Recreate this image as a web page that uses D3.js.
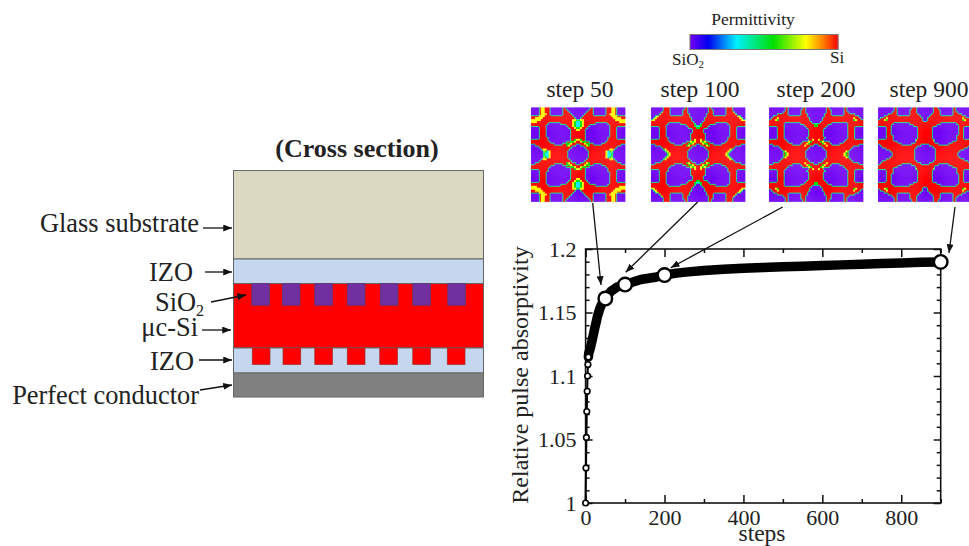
<!DOCTYPE html>
<html>
<head>
<meta charset="utf-8">
<script src="https://cdnjs.cloudflare.com/ajax/libs/d3/7.8.5/d3.min.js"></script>
<style>
html, body { margin: 0; padding: 0; background: #fff; overflow: hidden; }
svg { display: block; }
text { font-family: "Liberation Serif", serif; fill: #222; }
.axis path, .axis line { stroke: #111; stroke-width: 1.5; }
.axis text { font-family: "Liberation Serif", serif; font-size: 22px; fill: #222; }
.permMap { filter: blur(0.5px); }
</style>
</head>
<body>
<svg id="chart" width="969" height="546"></svg>
<script>
// Curve
const steps = [0,1,2,3,4,5,6,7,8,10,12,15,18,20,22,25,28,30,33,36,40,45,50,55,60,65,70,80,90,100,120,140,160,180,200,230,260,300,350,400,450,500,550,600,650,700,750,800,850,900];
const absorptivity = [1,1.0276,1.0516,1.072,1.088,1.1,1.109,1.115,1.118,1.12,1.122,1.126,1.13,1.133,1.136,1.14,1.144,1.147,1.15,1.153,1.156,1.159,1.161,1.163,1.165,1.167,1.168,1.17,1.171,1.172,1.174,1.176,1.177,1.178,1.1795,1.181,1.182,1.183,1.184,1.1848,1.1855,1.186,1.1865,1.187,1.1875,1.188,1.1885,1.189,1.1895,1.1898];
const highlightSteps = [50, 100, 200, 900];
const earlyCount = 8;

const xMajorTicks = [0, 200, 400, 600, 800];
const xMinorTicks = [100, 300, 500, 700, 900];
const yMajorTicks = [1, 1.05, 1.1, 1.15, 1.2];
const yTickLabels = ["1", "1.05", "1.1", "1.15", "1.2"];
const yMinorTicks = [1.01,1.02,1.03,1.04,1.06,1.07,1.08,1.09,1.11,1.12,1.13,1.14,1.16,1.17,1.18,1.19];

// Permittivity scale stops
const permittivityStops = [0, 0.12, 0.31, 0.56, 0.78, 0.88, 1];
const permittivityColors = ["#7000f5", "#0000f0", "#00f0ff", "#00e000", "#ffff00", "#ff9000", "#ff0000"];
const cellValues = {p: 0, c: 0.31, g: 0.56, y: 0.78, r: 1};

// Top left quarter of each map, the rest is mirrored
const map50 = [
"ppppryyrrrpppppprrpppppp","ppppryyrrrpppppprrrppppp","ppppryyrrrpppppprrrrpppp","ppppryyyrrpppppprrrrrppp",
"rrrryyyrrrrrrrrrrrrrrrpp","rryyyyrrrrrrrrrrrrrrrrrp","yyyyyrrrrrrrrrrrrrrrryyg","yyyrrrrrrrrrrrrrrrrrrygc",
"rrrrrrrrrpppppprrrrrrygc","rrrrrrrrpppppppppprrrygc","pppprrrrppppppppppprrryg","pppprrrrpppppppppppprrry",
"pppprrrrpppppppppppprrrr","pppprrrrpppppppppppprrrr","pppprrrrpppppppppppprrrr","pppprrrrrppppppppppprrrr",
"rrrrrrrrrppppppppppprrgy","rrrrrrrrrrpppppppprrggyr","rrrrrrrrrrrrpppprrggyrrr","pprrrrrrrrrrrrrrrrgyrrrp",
"pppprrrrrrrrrrrrrrrrrppp","pppppryyrrrrrrrrrrrrpppp","ppppppygcyrrrrrrrrrppppp","ppppppgccyrrrrrrrrrppppp"];
const map100 = [
"pppppprrrrppppppprrppppp","pppppprrrrpppppprrrppppp","pppppyrrrrpppppprrrppppp","ppppyrrrrrpppppprrrrpppp",
"ppyyrrrrrrrrrrrrrrrrpppp","pyyrrrrrrrrrrrrrrrrrrppp","yyrrrrrrrrrrrrrrrrrrrppp","rrrrrrrrrrrrrrrrrrrrrrpp",
"rrrrrrrrrpppppprrrrrrrgp","rrrrrrrrpppppppppprrrrgc","pppprrrrppppppppppprrrrg","pppprrrrppppppppppppprrr",
"pppprrrrppppppppppppprrr","pppprrrrpppppppppppprrrr","pppprrrrpppppppppppprrrr","pppprrrrrppppppppppprrrr",
"rrrrrrrrrppppppppppprryr","rrrrrrrrrrpppppppprrygyr","rrrrrrrrrrrrpppprrrggyrr","pprrrrrrrrrrrrrrrrgyrrrp",
"ppppprrrrrrrrrrrrrrrrppp","ppppppgyrrrrrrrrrrrrpppp","pppppppgyrrrrrrrrrrppppp","ppppppppgyrrrrrrrrrppppp"];
const map200 = [
"pppppppprrppppppprrppppp","pppppppprrpppppprrrppppp","ppppppprrrpppppprrrppppp","pppprrrrrrpppppprrrrpppp",
"pprrrrrrrrrrrrrrrrrrpppp","prrryrrrrrrrrrrrrrrrrppp","rrrygrrrrrrrrrrrrrrrrppp","rrrrrrrrrrrrrrrrrrrrrrpp",
"rrrrrrrrpppppppprrrrrrrg","rrrrrrrrpppppppppprrrrrg","pppprrrrppppppppppprrrrr","pppprrrrpppppppppppprrrr",
"pppprrrrpppppppppppprrrr","pppprrrrpppppppppppprrrr","pppprrrrpppppppppppprrrr","pppprrrrppppppppppprrrrr",
"rrrrrrrrrppppppppppprryr","rrrrrrrrrrppppppprrrygrr","rrrrrrrrrrrrpppprrrygrrr","pprrrrrrrrrrrrrrrryrrrrp",
"ppppprrrrrrrrrrrrrrrrppp","pppppprrrrrrrrrrrrrrpppp","pppppppgyrrrrrrrrrrppppp","ppppppprgyrrrrrrrrrppppp"];
const map900 = [
"pppppppprrppppppprrrpppp","pppppppprrpppppprrrrpppp","ppppppprrrpppppprrrrpppp","ppppprrrrrpppppprrrrrppp",
"ppprrrrrrrrrrrrrrrrrrrpp","prrryrrrrrrrrrrrrrrrrrrp","rrrygrrrrrrrrrrrrrrrrrrp","rrrrrrrrrrrrrrrrrrrrrrrr",
"rrrrrrrrpppppppprrrrrrrr","rrrrrrrppppppppppprrrrrr","pppprrrppppppppppppprrrr","pppprrrppppppppppppprrrr",
"pppprrrppppppppppppprrrr","pppprrrppppppppppppprrrr","pppprrrrpppppppppppprrrr","pppprrrrpppppppppppprrrr",
"rrrrrrrrpppppppppppyrrrr","rrrrrrrrrrppppppppprrrrr","rrrrrrrrrrrrppppprrrrrrr","prrrrrrrrrrrrrrrrrrrrrpp",
"pprrrrrrrrrrrrrrrrrrpppp","pppprrrrrrrrrrrrrrrppppp","pppppprrrrrrrrrrrrrppppp","ppppppprrrrrrrrrrrrppppp"];
const mapTitles = ["step 50", "step 100", "step 200", "step 900"];
const mapRows = [map50, map100, map200, map900];
const mapLeft = [531, 651, 769, 878];
const mapTitleMid = [580, 700, 816, 929];

// Cross section, in layer units
const layerNames = ["glass", "izoTop", "si", "izoBottom", "conductor"];
const layerEdges = [0, 35.4, 45.2, 71, 81, 90.6];
const layerColors = ["#dcd9c3", "#c5d7ee", "#ff0000", "#c5d7ee", "#808080"];
const oxidePillars = [7.3, 19.5, 32.5, 45.5, 58.7, 71.7, 85.7];
const siliconPillars = [7.5, 19.8, 32.5, 45.5, 58.5, 71.7, 85.5];
const pillarWidth = 7.1;

const svg = d3.select("#chart");
const defs = svg.append("defs");
defs.append("marker").attr("id", "head").attr("viewBox", "0 0 10 8")
    .attr("refX", 10).attr("refY", 4)
    .attr("markerUnits", "userSpaceOnUse").attr("markerWidth", 9).attr("markerHeight", 7)
    .attr("orient", "auto")
    .append("path").attr("d", "M0,0L10,4L0,8Z").attr("fill", "#111");

function addText(str, x, y, size, anchor) {
    return svg.append("text").attr("x", x).attr("y", y)
        .attr("font-size", size).attr("text-anchor", anchor || "start").text(str);
}
function addArrow(x1, y1, x2, y2) {
    svg.append("line").attr("x1", x1).attr("y1", y1).attr("x2", x2).attr("y2", y2)
        .attr("stroke", "#111").attr("stroke-width", 1.3).attr("marker-end", "url(#head)");
}

// ---- cross section ----
const crossX = d3.scaleLinear().domain([0, 100]).range([233.5, 483.5]);
const crossY = d3.scaleLinear().domain([0, 90.6]).range([170.5, 397]);
layerNames.forEach(function(name, i) {
    svg.append("rect")
        .attr("x", crossX(0)).attr("y", crossY(layerEdges[i]))
        .attr("width", crossX(100) - crossX(0))
        .attr("height", crossY(layerEdges[i + 1]) - crossY(layerEdges[i]))
        .attr("fill", layerColors[i]).attr("stroke", "#666").attr("stroke-width", 1);
});
svg.selectAll(".oxide").data(oxidePillars).enter().append("rect")
    .attr("x", d => crossX(d)).attr("y", crossY(45.2))
    .attr("width", crossX(pillarWidth) - crossX(0))
    .attr("height", crossY(53.9) - crossY(45.2))
    .attr("fill", "#7030a0").attr("stroke", "#5a3a70").attr("stroke-width", 0.7);
svg.selectAll(".silicon").data(siliconPillars).enter().append("rect")
    .attr("x", d => crossX(d)).attr("y", crossY(71))
    .attr("width", crossX(pillarWidth) - crossX(0))
    .attr("height", crossY(77.6) - crossY(71))
    .attr("fill", "#ff0000").attr("stroke", "#a03030").attr("stroke-width", 0.7);

svg.append("text").attr("x", 357).attr("y", 157).attr("font-size", 26)
    .attr("font-weight", "bold").attr("text-anchor", "middle").text("(Cross section)");
addText("Glass substrate", 199, 232, 26.4, "end");
addText("IZO", 193, 281, 26.4, "end");
const oxideLabel = addText("SiO", 155, 311, 26.4);
oxideLabel.append("tspan").attr("font-size", 16).attr("dy", 5).text("2");
addText("μc-Si", 198, 336, 26.4, "end");
addText("IZO", 194, 370, 26.4, "end");
addText("Perfect conductor", 199, 404, 26.4, "end");
addArrow(203, 228, 232, 228);
addArrow(205, 272, 232, 272);
addArrow(211, 302, 246, 295);
addArrow(202, 330, 231, 330);
addArrow(199, 360, 232, 360);
addArrow(200, 390, 232, 385);

// ---- colour bar ----
const permColor = d3.scaleLinear().domain(permittivityStops).range(permittivityColors).clamp(true);
const barX = d3.scaleLinear().domain([0, 1]).range([690, 838]);
const barValues = d3.range(0, 1, 1 / 148);
svg.selectAll(".bar").data(barValues).enter().append("rect")
    .attr("x", d => barX(d)).attr("y", 34.5).attr("width", 1.4).attr("height", 15)
    .attr("fill", d => permColor(d));
svg.append("rect").attr("x", 690).attr("y", 34.5).attr("width", 148).attr("height", 15)
    .attr("fill", "none").attr("stroke", "#777").attr("stroke-width", 1);
addText("Permittivity", 753, 25, 17.5, "middle");
const barOxide = addText("SiO", 672, 65, 17);
barOxide.append("tspan").attr("font-size", 11).attr("dy", 3).text("2");
addText("Si", 830, 63, 17);

// ---- permittivity maps ----
function fullMap(rows) {
    const top = rows.map(r => (r + r.split("").reverse().join("")).split("").map(c => cellValues[c]));
    const half = top.concat(top.slice().reverse());
    // each read cell becomes 2x2 so the edge line can be one pixel wide
    const grid = [];
    half.forEach(function(row) {
        const wide = [];
        row.forEach(v => wide.push(v, v));
        grid.push(wide, wide);
    });
    const n = grid.length;
    // red cells touching the purple take the teal edge seen in the maps
    return grid.map(function(row, i) {
        return row.map(function(v, j) {
            const touching = Math.min(grid[Math.max(i - 1, 0)][j], grid[Math.min(i + 1, n - 1)][j],
                row[Math.max(j - 1, 0)], row[Math.min(j + 1, n - 1)]);
            return v > 0 && touching === 0 ? 0.42 : v;
        });
    });
}
const cellPos = d3.scaleBand().domain(d3.range(96)).range([0, 94]);
mapRows.forEach(function(rows, m) {
    const g = svg.append("g").attr("class", "permMap").attr("transform", "translate(" + mapLeft[m] + ",107.5)");
    fullMap(rows).forEach(function(row, i) {
        g.selectAll(".c" + i).data(row).enter().append("rect")
            .attr("x", (d, j) => cellPos(j)).attr("y", cellPos(i))
            .attr("width", cellPos.bandwidth() + 0.3).attr("height", cellPos.bandwidth() + 0.3)
            .attr("fill", d => permColor(d));
    });
    addText(mapTitles[m], mapTitleMid[m], 97, 23.5, "middle");
});

// ---- plot ----
const x = d3.scaleLinear().domain([0, 900]).range([585.6, 940.7]);
const y = d3.scaleLinear().domain([1, 1.2]).range([503, 249]);

function drawAxis(axis, tx, ty) {
    const g = svg.append("g").attr("class", "axis")
        .attr("transform", "translate(" + tx + "," + ty + ")").call(axis);
    g.select(".domain").remove();
    return g;
}
drawAxis(d3.axisBottom(x).tickValues(xMajorTicks).tickSize(-8).tickPadding(6).tickFormat(d3.format("d")), 0, 503);
drawAxis(d3.axisBottom(x).tickValues(xMinorTicks).tickSize(-4).tickFormat(""), 0, 503);
drawAxis(d3.axisTop(x).tickValues(xMajorTicks).tickSize(-8).tickFormat(""), 0, 249);
drawAxis(d3.axisTop(x).tickValues(xMinorTicks).tickSize(-4).tickFormat(""), 0, 249);
drawAxis(d3.axisLeft(y).tickValues(yMajorTicks).tickSize(-7).tickPadding(9).tickFormat((d, i) => yTickLabels[i]), 585.6, 0);
drawAxis(d3.axisLeft(y).tickValues(yMinorTicks).tickSize(-4).tickFormat(""), 585.6, 0);
drawAxis(d3.axisRight(y).tickValues(yMajorTicks).tickSize(-7).tickFormat(""), 940.7, 0);
drawAxis(d3.axisRight(y).tickValues(yMinorTicks).tickSize(-4).tickFormat(""), 940.7, 0);
svg.append("rect").attr("x", 585.6).attr("y", 249).attr("width", 355.1).attr("height", 254)
    .attr("fill", "none").attr("stroke", "#111").attr("stroke-width", 1.6);

const points = steps.map((s, i) => ({step: s, value: absorptivity[i]}));
const line = d3.line().x(d => x(d.step)).y(d => y(d.value));
svg.append("path").datum(points.slice(0, earlyCount + 1)).attr("d", line)
    .attr("fill", "none").attr("stroke", "#000").attr("stroke-width", 2);
svg.append("path").datum(points.slice(earlyCount - 1)).attr("d", line)
    .attr("fill", "none").attr("stroke", "#000").attr("stroke-width", 9.5)
    .attr("stroke-linecap", "round").attr("stroke-linejoin", "round");
svg.selectAll(".early").data(points.slice(0, earlyCount)).enter().append("circle")
    .attr("cx", d => x(d.step)).attr("cy", d => y(d.value)).attr("r", 2.8)
    .attr("fill", "#fff").attr("stroke", "#000").attr("stroke-width", 1.6);
svg.selectAll(".big").data(points.filter(d => highlightSteps.includes(d.step))).enter().append("circle")
    .attr("cx", d => x(d.step)).attr("cy", d => y(d.value)).attr("r", 6.8)
    .attr("fill", "#fff").attr("stroke", "#000").attr("stroke-width", 2.4);

svg.append("text").attr("transform", "translate(528,375) rotate(-90)")
    .attr("font-size", 24).attr("text-anchor", "middle").text("Relative pulse absorptivity");
addText("steps", 762, 540.5, 23.5, "middle");

addArrow(592.7, 203, 601, 285);
addArrow(697.7, 202, 625.7, 272.3);
addArrow(782.7, 207, 670.7, 267.7);
addArrow(955, 207, 949, 253);
</script>
</body>
</html>
